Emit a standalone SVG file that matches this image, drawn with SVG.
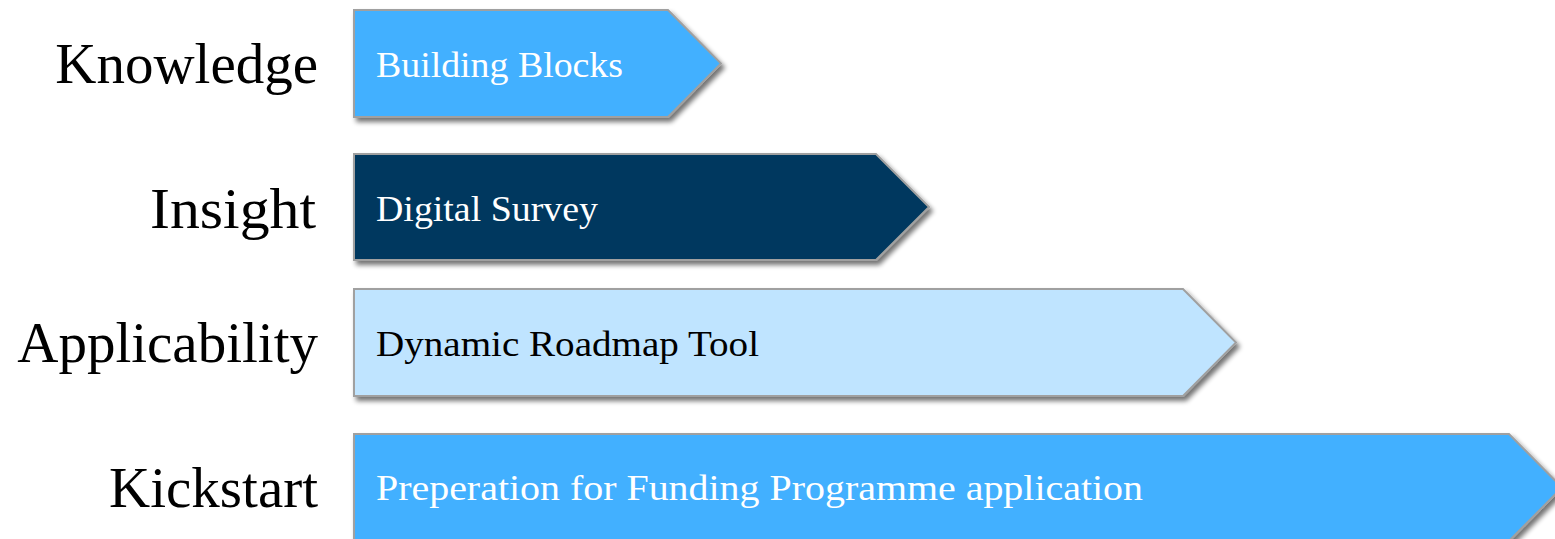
<svg xmlns="http://www.w3.org/2000/svg" width="1555" height="539" viewBox="0 0 1555 539">
<style>
.lbl{font-family:"Liberation Serif","Times New Roman",serif;font-size:57px;fill:#000;text-anchor:end}
.bt{font-family:"Liberation Serif","Times New Roman",serif;font-size:35px}
.arrow{stroke:#a0a0a0;stroke-width:2;filter:url(#sh)}
</style>
<defs>
<filter id="sh" x="-5%" y="-10%" width="115%" height="130%">
<feGaussianBlur in="SourceAlpha" stdDeviation="2.5"/>
<feOffset dx="3" dy="4" result="b"/>
<feComponentTransfer><feFuncA type="linear" slope="0.55"/></feComponentTransfer>
<feMerge><feMergeNode/><feMergeNode in="SourceGraphic"/></feMerge>
</filter>
</defs>
<g id="knowledge">
<text class="lbl" x="318" y="83">Knowledge</text>
<path class="arrow" d="M354,10 H668 L721,63.5 L668,117 H354 Z" fill="#42b0ff"/>
<text class="bt" x="376" y="77" fill="#fff" textLength="247" lengthAdjust="spacingAndGlyphs">Building Blocks</text>
</g>
<g id="insight">
<text class="lbl" x="316" y="228" textLength="166" lengthAdjust="spacingAndGlyphs">Insight</text>
<path class="arrow" d="M354,154 H876 L929,207 L876,260 H354 Z" fill="#00395e"/>
<text class="bt" x="376" y="221" fill="#fff" textLength="222" lengthAdjust="spacingAndGlyphs">Digital Survey</text>
</g>
<g id="applicability">
<text class="lbl" x="318" y="362">Applicability</text>
<path class="arrow" d="M354,289 H1183 L1236,342.5 L1183,396 H354 Z" fill="#bfe4ff"/>
<text class="bt" x="376" y="356" fill="#000" textLength="383" lengthAdjust="spacingAndGlyphs">Dynamic Roadmap Tool</text>
</g>
<g id="kickstart">
<text class="lbl" x="318" y="507">Kickstart</text>
<path class="arrow" d="M354,434 H1509 L1562,487.5 L1509,541 H354 Z" fill="#42b0ff"/>
<text class="bt" x="376" y="500" fill="#fff" textLength="767" lengthAdjust="spacingAndGlyphs">Preperation for Funding Programme application</text>
</g>
</svg>
